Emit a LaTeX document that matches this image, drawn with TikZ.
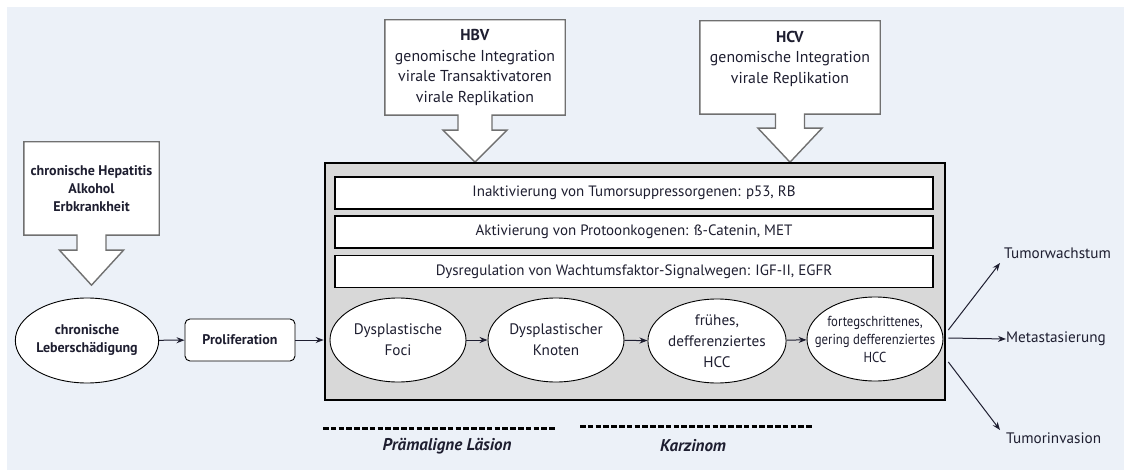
\documentclass[tikz,border=0pt]{standalone}
\usepackage{fontspec}
\setmainfont{PT Sans}
\newfontfamily\condensedfont[FakeStretch=0.88]{PT Sans}
\usetikzlibrary{shapes.geometric,arrows.meta,calc}
\definecolor{bgc}{HTML}{ECF1F8}
\definecolor{boxgray}{HTML}{D8D8D8}
\definecolor{edgegray}{HTML}{707070}
\definecolor{txt}{HTML}{1E1E30}
\tikzset{
  blk/.style={draw=edgegray, line width=1.4pt, fill=white, line join=miter},
  bar/.style={draw=black, line width=1.3pt, fill=white, minimum width=598pt, minimum height=32pt, inner sep=0pt, font=\fontsize{15}{17}\selectfont},
  ell/.style={ellipse, draw=black, line width=0.9pt, fill=white, minimum width=136pt, minimum height=84pt, inner sep=0pt, align=center, font=\fontsize{15.2}{21}\selectfont},
  conn/.style={line width=1pt, -{Stealth[length=8pt,width=6pt]}},
  outlab/.style={font=\fontsize{15.2}{17}\selectfont, inner sep=0pt},
  dashline/.style={line width=3pt, dash pattern=on 5.5pt off 2.3pt},
  phase/.style={font=\fontsize{17}{19}\selectfont\bfseries\itshape},
}
\newcommand{\myblkarrow}[5]{% name, stem half, head half, stem len, total len
  \draw[blk] (#1.south west) -- (#1.north west) -- (#1.north east) -- (#1.south east)
    -- ($(#1.south)+(#2,0)$) -- ($(#1.south)+(#2,#4)$) -- ($(#1.south)+(#3,#4)$)
    -- ($(#1.south)+(0,#5)$) -- ($(#1.south)+(-#3,#4)$) -- ($(#1.south)+(-#2,#4)$)
    -- ($(#1.south)+(-#2,0)$) -- cycle;}
\begin{document}
\begin{tikzpicture}[x=1pt,y=-1pt,color=txt,text=txt]
\useasboundingbox (0,0) rectangle (1124,470);
\fill[bgc] (7,7) rectangle (1124,470);

% block arrows with boxes
\node[minimum width=135pt, minimum height=93pt, inner sep=0pt] (cause) at (91.5,188.5) {};
\myblkarrow{cause}{14.5}{32}{15}{50}
\node[align=center, font=\fontsize{14}{18}\selectfont\bfseries] at (cause) {chronische Hepatitis\\Alkohol\\Erbkrankheit};

\node[minimum width=180pt, minimum height=95pt, inner sep=0pt] (hbv) at (475,67.5) {};
\myblkarrow{hbv}{17}{32}{15}{47}
\node[align=center, font=\fontsize{15.8}{20.5}\selectfont] at (hbv) {\textbf{HBV}\\genomische Integration\\virale Transaktivatoren\\virale Replikation};

\node[minimum width=180pt, minimum height=93pt, inner sep=0pt] (hcv) at (790,67.5) {};
\myblkarrow{hcv}{14.5}{32}{14}{48}
\node[align=center, font=\fontsize{15.8}{20.5}\selectfont] at ($(hcv)+(0,-9)$) {\textbf{HCV}\\genomische Integration\\virale Replikation};

% main box
\node[draw=black, line width=2.6pt, fill=boxgray, minimum width=620pt, minimum height=237pt, inner sep=0pt] (main) at (635,281.5) {};
\node[bar] (b1) at (634,193) {Inaktivierung von Tumorsuppressorgenen: p53, RB};
\node[bar] (b2) at (634,232) {Aktivierung von Protoonkogenen: ß-Catenin, MET};
\node[bar] (b3) at (634,271.5) {Dysregulation von Wachtumsfaktor-Signalwegen: IGF-II, EGFR};

\node[ell] (e1) at (398,340) {Dysplastische\\Foci};
\node[ell] (e2) at (556,340) {Dysplastischer\\Knoten};
\node[ell] (e3) at (717,341) {frühes,\\defferenziertes\\HCC};
\node[ell, inner xsep=-14pt, inner ysep=-8pt, font=\condensedfont\fontsize{14.5}{18}\selectfont] (e4) at (875,339) {fortegschrittenes,\\gering defferenziertes\\HCC};
\draw[conn] (e1) -- (e2);
\draw[conn] (e2) -- (e3);
\draw[conn] (e3) -- (e4);

% left chain
\node[ell, minimum width=135pt, minimum height=85pt, font=\fontsize{14}{18}\selectfont\bfseries] (dmg) at (87,340.5) {chronische\\Leberschädigung};
\node[draw=black, line width=0.9pt, fill=white, rounded corners=5pt, minimum width=110pt, minimum height=42pt, inner sep=0pt, font=\fontsize{14}{16}\selectfont\bfseries] (prol) at (240,340) {Proliferation};
\draw[conn] (dmg) -- (prol);
\draw[conn] (prol) -- (prol -| main.west);

% outcomes
\node[outlab, anchor=west] (tw) at (1004,253) {Tumorwachstum};
\node[outlab, anchor=west] (met) at (1006,339) {Metastasierung};
\node[outlab, anchor=west] (inv) at (1006,438) {Tumorinvasion};
\coordinate (s1) at ($(main.east)+(2,48.5)$);
\coordinate (s2) at ($(main.east)+(2,56.5)$);
\coordinate (s3) at ($(main.east)+(2,80.5)$);
\coordinate (t1) at (1000,263);
\coordinate (t3) at (1000,430);
\draw[conn] (s1) -- (t1);
\draw[conn] (s2) -- (met.west);
\draw[conn] (s3) -- (t3);

% phases
\coordinate (p1a) at (323,428);
\coordinate (p1b) at (555,428);
\coordinate (p2a) at (580,426);
\coordinate (p2b) at (813,426);
\draw[dashline, color=black] (p1a) -- (p1b);
\draw[dashline, color=black] (p2a) -- (p2b);
\node[phase] (pl) at (447,446) {Prämaligne Läsion};
\node[phase] (kz) at (693,446) {Karzinom};
\end{tikzpicture}
\end{document}
